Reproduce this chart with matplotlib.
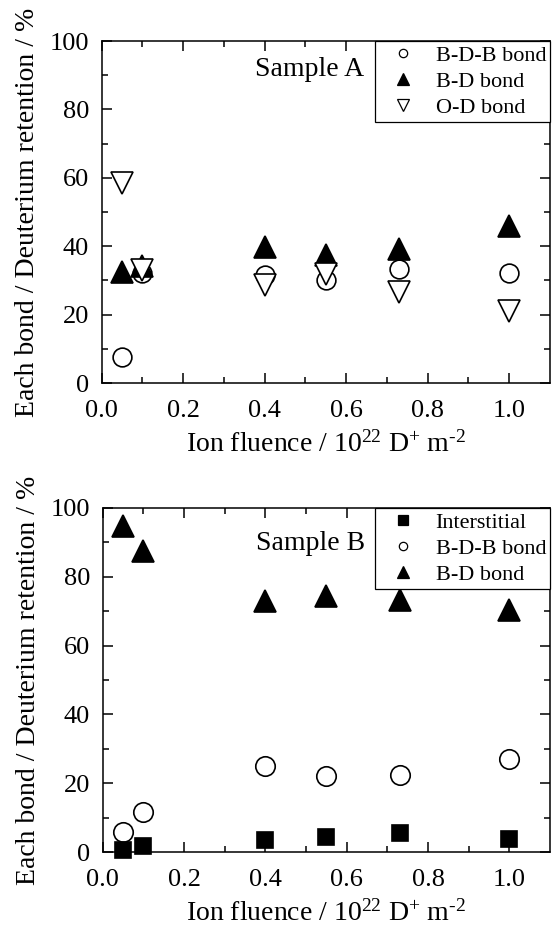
import numpy as np
import matplotlib
matplotlib.use("Agg")
import matplotlib.pyplot as plt

plt.rcParams['font.family'] = 'Liberation Serif'
plt.rcParams['mathtext.fontset'] = 'custom'
plt.rcParams['mathtext.rm'] = 'Liberation Serif'
plt.rcParams['mathtext.default'] = 'regular'

# --- data ---
fluence = [0.05, 0.1, 0.4, 0.55, 0.73, 1.0]

# sample A
a_bdb = [7.5, 32.2, 31.5, 30.0, 33.4, 32.2]
a_bd = [32.6, 34.3, 39.7, 37.3, 39.2, 46.0]
a_od = [58.5, 33.0, 28.8, 32.0, 26.6, 21.0]

# sample B
b_inter = [0.7, 1.7, 3.4, 4.4, 5.5, 3.9]
b_bdb = [5.8, 11.5, 25.0, 22.0, 22.5, 27.0]
b_bd = [94.8, 87.6, 72.9, 74.5, 73.2, 70.3]

xlabel = r'Ion fluence / 10$^{22}$ D$^{+}$ m$^{\text{-}2}$'
ylabel = 'Each bond / Deuterium retention / %'

fig = plt.figure(figsize=(5.52, 9.27), dpi=100)
ax1 = fig.add_axes([0.1839, 0.5868, 0.8125, 0.3689])
ax2 = fig.add_axes([0.1861, 0.0809, 0.8103, 0.3711])

mew = 1.2

def style_axis(ax):
    ax.set_xlim(0, 1.1)
    ax.set_ylim(0, 100)
    ax.set_xticks(np.arange(0, 1.01, 0.2))
    ax.set_xticks(np.arange(0.1, 1.1, 0.2), minor=True)
    ax.set_yticks(np.arange(0, 101, 20))
    ax.set_yticks(np.arange(10, 100, 20), minor=True)
    ax.xaxis.set_major_formatter(plt.FormatStrFormatter('%.1f'))
    ax.tick_params(which='both', direction='in', top=True, right=True, width=1.1)
    ax.tick_params(which='major', length=7.2, labelsize=19)
    ax.tick_params(which='minor', length=4.3)
    ax.tick_params(axis='x', pad=12)
    ax.tick_params(axis='y', pad=9)
    for sp in ax.spines.values():
        sp.set_linewidth(1.1)
    ax.set_xlabel(xlabel, fontsize=20, labelpad=7)
    ax.set_ylabel(ylabel, fontsize=20, labelpad=7)

def make_legend(ax, sizes):
    leg = ax.legend(loc='upper right', bbox_to_anchor=(1, 1), borderaxespad=0,
                    fontsize=16, frameon=True, fancybox=False, framealpha=1,
                    edgecolor='black', borderpad=0.18, labelspacing=0.25,
                    handlelength=2.2, handletextpad=0.35)
    leg.get_frame().set_linewidth(0.9)
    for h, s in zip(leg.legend_handles, sizes):
        h.set_markersize(s)
        h.set_markeredgewidth(0.9)
    return leg

# --- sample A ---
ax1.plot(fluence, a_bdb, 'o', ms=13.5, mfc='white', mec='black', mew=mew,
         label='B-D-B bond', clip_on=False, zorder=3)
ax1.plot(fluence, a_bd, '^', ms=15.5, color='black', mew=mew,
         label='B-D bond', clip_on=False, zorder=4)
ax1.plot(fluence, a_od, 'v', ms=15.5, mfc='white', mec='black', mew=mew,
         label='O-D bond', clip_on=False, zorder=5)
style_axis(ax1)
ax1.text(0.376, 89.8, 'Sample A', fontsize=20, ha='left', va='baseline')
make_legend(ax1, [6, 9, 8])

# --- sample B ---
ax2.plot(fluence, b_inter, 's', ms=12, color='black', mew=mew,
         label='Interstitial', clip_on=False, zorder=5)
ax2.plot(fluence, b_bdb, 'o', ms=14, mfc='white', mec='black', mew=mew,
         label='B-D-B bond', clip_on=False, zorder=4)
ax2.plot(fluence, b_bd, '^', ms=15.5, color='black', mew=mew,
         label='B-D bond', clip_on=False, zorder=3)
style_axis(ax2)
ax2.text(0.378, 87.8, 'Sample B', fontsize=20, ha='left', va='baseline')
make_legend(ax2, [7, 6, 9])

fig.savefig('out.png', dpi=100)
